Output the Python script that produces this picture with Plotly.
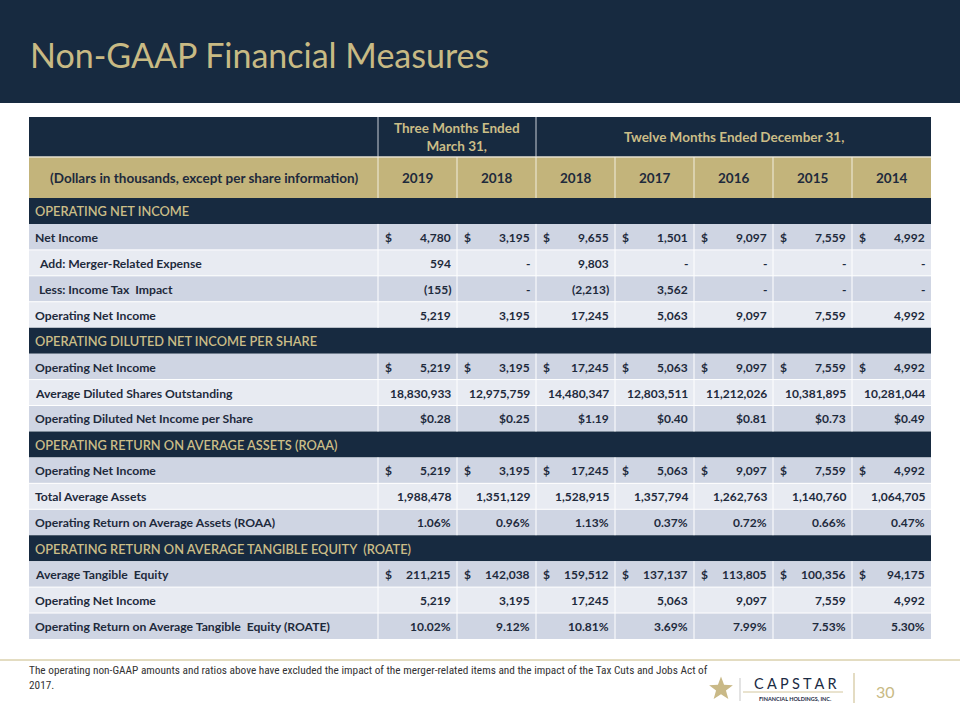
import math
import plotly.graph_objects as go

# ---------------- data ----------------
col_years = ["2019", "2018", "2018", "2017", "2016", "2015", "2014"]
group_labels = ["Three Months Ended<br>March 31,", "Twelve Months Ended December 31,"]
group_spans = [2, 5]
stub_header = "(Dollars in thousands, except per share information)"
title_text = "Non-GAAP Financial Measures"

section_titles = [
    "OPERATING NET INCOME",
    "OPERATING DILUTED NET INCOME PER SHARE",
    "OPERATING RETURN ON AVERAGE ASSETS (ROAA)",
    "OPERATING RETURN ON AVERAGE TANGIBLE EQUITY  (ROATE)",
]

net_income = [4780, 3195, 9655, 1501, 9097, 7559, 4992]
merger_related_expense = [594, None, 9803, None, None, None, None]
income_tax_impact = [-155, None, -2213, 3562, None, None, None]
operating_net_income = [5219, 3195, 17245, 5063, 9097, 7559, 4992]
avg_diluted_shares = [18830933, 12975759, 14480347, 12803511, 11212026, 10381895, 10281044]
operating_diluted_eps = [0.28, 0.25, 1.19, 0.40, 0.81, 0.73, 0.49]
total_average_assets = [1988478, 1351129, 1528915, 1357794, 1262763, 1140760, 1064705]
operating_roaa = [1.06, 0.96, 1.13, 0.37, 0.72, 0.66, 0.47]
avg_tangible_equity = [211215, 142038, 159512, 137137, 113805, 100356, 94175]
operating_roate = [10.02, 9.12, 10.81, 3.69, 7.99, 7.53, 5.30]

footnote = ("The operating non-GAAP amounts and ratios above have excluded the impact of the merger-related "
            "items and the impact of the Tax Cuts and Jobs Act of<br>2017.")
page_number = "30"

# (label, values, format, dollar sign, indent)
sections = [
    [("Net Income", net_income, "num", True, False),
     ("Add: Merger-Related Expense", merger_related_expense, "num", False, True),
     ("Less: Income Tax  Impact", income_tax_impact, "num", False, True),
     ("Operating Net Income", operating_net_income, "num", False, False)],
    [("Operating Net Income", operating_net_income, "num", True, False),
     ("Average Diluted Shares Outstanding", avg_diluted_shares, "num", False, False),
     ("Operating Diluted Net Income per Share", operating_diluted_eps, "eps", False, False)],
    [("Operating Net Income", operating_net_income, "num", True, False),
     ("Total Average Assets", total_average_assets, "num", False, False),
     ("Operating Return on Average Assets (ROAA)", operating_roaa, "pct", False, False)],
    [("Average Tangible  Equity", avg_tangible_equity, "num", True, False),
     ("Operating Net Income", operating_net_income, "num", False, False),
     ("Operating Return on Average Tangible  Equity (ROATE)", operating_roate, "pct", False, False)],
]


def fmt(v, kind):
    if v is None:
        return "-"
    if kind == "eps":
        return "${:.2f}".format(v)
    if kind == "pct":
        return "{:.2f}%".format(v)
    if v < 0:
        return "({:,})".format(-v)
    return "{:,}".format(v)


# ---------------- styles / geometry ----------------
NAVY = "#172A40"
GOLD_ROW = "#C3B47B"
GOLD_TXT = "#CBBD87"
ROW_DARK = "#CFD5E3"
ROW_LIGHT = "#E8EBF2"
TXT = "#1E2A3C"
FONT = "Lato, 'Open Sans', sans-serif"

X0 = 29
LABEL_W = 349
COL_W = 79
TOP = 117
H1 = 40
H2 = 41
ROW_H = 25.94
X1 = X0 + LABEL_W + COL_W * len(col_years)

shapes = []
ann = []


def rect(x0, y0, x1, y1, color):
    shapes.append(dict(type="rect", xref="x", yref="y", x0=x0, y0=y0, x1=x1, y1=y1,
                       fillcolor=color, line=dict(width=0), layer="below"))


def line(x0, y0, x1, y1, color, w=1):
    shapes.append(dict(type="line", xref="x", yref="y", x0=x0, y0=y0, x1=x1, y1=y1,
                       line=dict(color=color, width=w)))


def text(x, y, s, size, color, xanchor="left", weight="normal", family=FONT):
    ann.append(dict(x=x, y=y, xref="x", yref="y", text=s, showarrow=False,
                    xanchor=xanchor, yanchor="middle", align=xanchor if xanchor != "center" else "center",
                    font=dict(size=size, color=color, family=family, weight=weight)))


col_x = [X0 + LABEL_W + i * COL_W for i in range(len(col_years) + 1)]

# title band
rect(0, 0, 960, 103, NAVY)
text(28, 54, title_text, 34, "#C8BA84")

# header row 1
rect(X0, TOP, X1, TOP + H1, NAVY)
gi = 0
for lab, span in zip(group_labels, group_spans):
    gx0 = col_x[gi]
    gx1 = col_x[gi + span]
    text((gx0 + gx1) / 2, TOP + H1 / 2, lab, 13.5, GOLD_TXT, "center", "bold")
    line(gx0, TOP, gx0, TOP + H1, "#C9CDD5", 1)
    gi += span

# header row 2
y2 = TOP + H1
rect(X0, y2, X1, y2 + H2, GOLD_ROW)
line(X0, y2, X1, y2, "#E6E1CF", 1.5)
text(X0 + LABEL_W / 2, y2 + H2 / 2, stub_header, 13.5, TXT, "center", "bold")
for i, yr in enumerate(col_years):
    line(col_x[i], y2, col_x[i], y2 + H2, "#F2EEE0", 1)
    text((col_x[i] + col_x[i + 1]) / 2, y2 + H2 / 2, yr, 13.5, TXT, "center", "bold")

# body
y = y2 + H2
for title, rows in zip(section_titles, sections):
    rect(X0, y, X1, y + ROW_H, NAVY)
    text(X0 + 4, y + ROW_H / 2 + 0.5, title, 12.8, GOLD_TXT, "left", 600)
    y += ROW_H
    for r, (label, vals, kind, dollar, indent) in enumerate(rows):
        rect(X0, y, X1, y + ROW_H, ROW_DARK if r % 2 == 0 else ROW_LIGHT)
        if r > 0:
            line(X0, y, X1, y, "#FFFFFF", 1)
        for cx in col_x[:-1]:
            line(cx, y, cx, y + ROW_H, "#FFFFFF", 1)
        cy = y + ROW_H / 2 + 0.5
        text(X0 + (8 if indent else 4), cy, label, 12.2, TXT, "left", "bold")
        for i, v in enumerate(vals):
            if dollar:
                text(col_x[i] + 5, cy, "$", 12, TXT, "left", "bold")
            text(col_x[i + 1] - 4, cy, fmt(v, kind), 12, TXT, "right", "bold")
        y += ROW_H

# footer
line(0, 660, 960, 660, "#C8BA84", 1)
text(27, 678, footnote, 11.3, "#333333", "left", "normal",
     "'Liberation Sans Narrow', 'Roboto Condensed', Lato, sans-serif")

# logo star
cx, cy, R, rr = 721, 689, 12.5, 5.2
pts = []
for k in range(10):
    a = -math.pi / 2 + k * math.pi / 5
    rad = R if k % 2 == 0 else rr
    pts.append((cx + rad * math.cos(a), cy + rad * math.sin(a)))
path = "M " + " L ".join("{:.2f},{:.2f}".format(px, py) for px, py in pts) + " Z"
shapes.append(dict(type="path", path=path, xref="x", yref="y", fillcolor="#C9B987",
                   line=dict(width=0)))
line(740, 678, 740, 701, "#B9B9B9", 0.8)
text(795, 683, "C A P S T A R", 14.5, "#1B2B44", "center", "normal")
line(743, 692, 843, 692, "#C9B987", 0.8)
text(795, 698.5, "FINANCIAL HOLDINGS, INC.", 5.5, "#1B2B44", "center", "bold")
line(854, 673, 854, 703, "#C9B987", 1)
text(885, 691, page_number, 16, "#C8BA84", "center", "normal")

fig = go.Figure()
fig.update_layout(
    width=960, height=720,
    margin=dict(l=0, r=0, t=0, b=0),
    paper_bgcolor="white", plot_bgcolor="white",
    xaxis=dict(range=[0, 960], visible=False, fixedrange=True),
    yaxis=dict(range=[720, 0], visible=False, fixedrange=True),
    shapes=shapes, annotations=ann, showlegend=False,
)
fig.write_html("out.html", config={"displayModeBar": False},
               post_script="document.body.style.margin='0';")
